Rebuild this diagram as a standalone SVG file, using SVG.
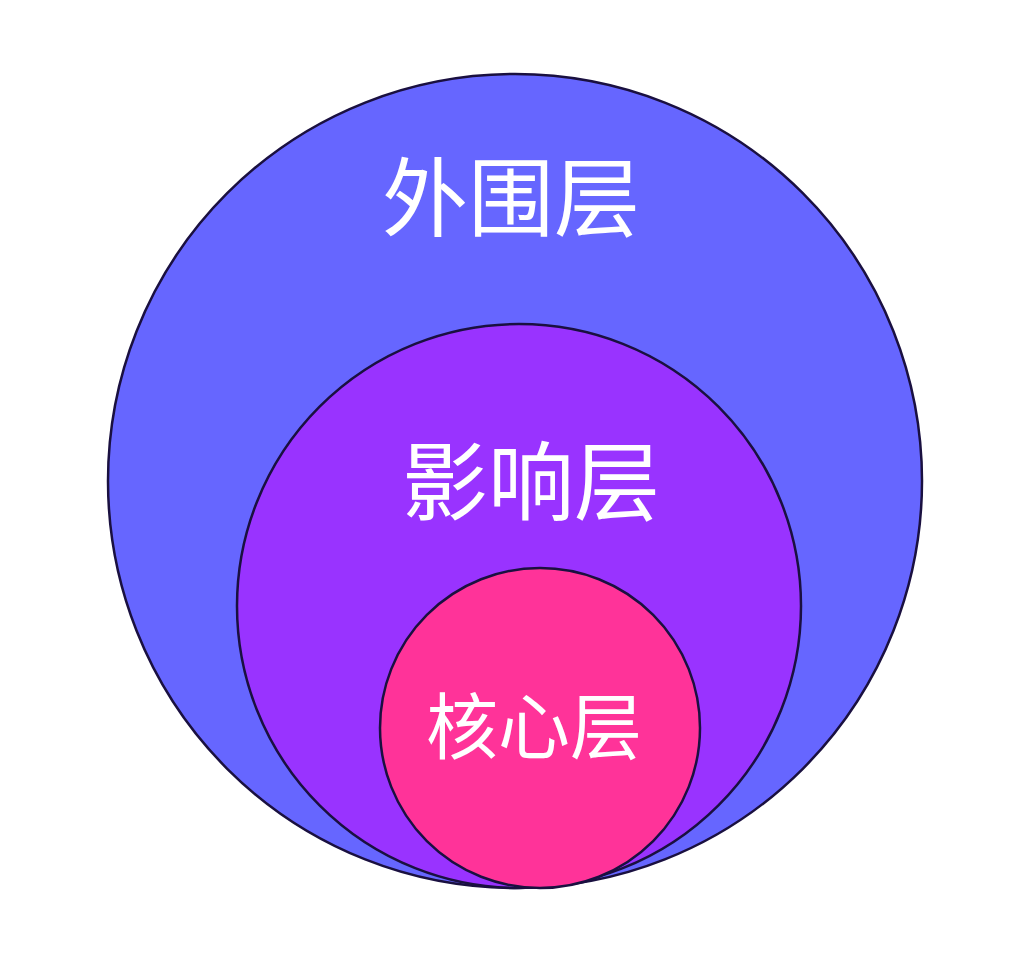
<svg xmlns="http://www.w3.org/2000/svg" width="1024" height="959" viewBox="0 0 1024 959">
  <style>
    .ring { stroke: #1a1040; stroke-width: 2.5; }
    .label { font-family: "Noto Sans CJK SC", "Noto Sans", sans-serif; fill: #ffffff; text-anchor: middle; dominant-baseline: central; }
  </style>
  <rect width="1024" height="959" fill="#ffffff"/>
  <g id="outer">
    <circle class="ring" cx="515" cy="481" r="407" fill="#6666FF"/>
    <text class="label" x="511" y="192" font-size="86">外围层</text>
  </g>
  <g id="middle">
    <circle class="ring" cx="519" cy="606" r="282" fill="#9933FF"/>
    <text class="label" x="531" y="476" font-size="86">影响层</text>
  </g>
  <g id="inner">
    <circle class="ring" cx="540" cy="728" r="160" fill="#FF3399"/>
    <text class="label" x="534" y="721" font-size="72">核心层</text>
  </g>
  <g id="connectors"></g>
</svg>
